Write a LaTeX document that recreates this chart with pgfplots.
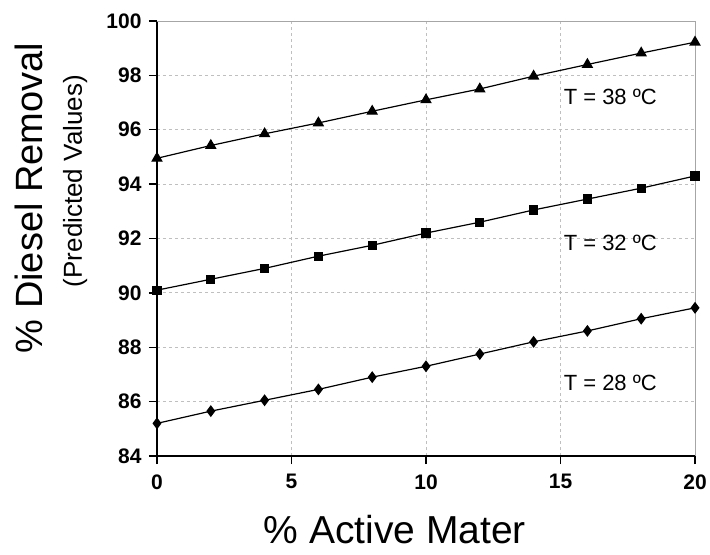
\documentclass[border=0pt]{standalone}
\usepackage{pgfplots}
\pgfplotsset{compat=1.18}
\usepackage{fontspec}
\setmainfont{Liberation Sans}
\begin{document}
\begin{tikzpicture}
\begin{axis}[
  name=ax,
  scale only axis,
  width=538pt, height=435pt,
  xmin=0, xmax=20, ymin=84, ymax=100,
  xtick={0,5,10,15,20}, ytick={84,86,...,100},
  axis x line*=bottom, axis y line*=left,
  axis line style={black, line width=1.8pt},
  tick align=outside, major tick length=8pt,
  tick style={black, line width=1.5pt},
  grid=major,
  grid style={gray!50, dashed, line width=0.9pt},
  /pgf/number format/assume math mode=true,
  ticklabel style={font=\fontsize{21}{23}\selectfont\bfseries},
  xticklabel style={yshift=-7pt},
  yticklabel style={xshift=-4pt},
  clip=false,
]
\draw[gray!70, line width=0.9pt] (rel axis cs:0,1) -- (rel axis cs:1,1) -- (rel axis cs:1,0);
\addplot[black, line width=1.2pt, mark=triangle*, mark size=5.5pt] coordinates {
(0,94.95) (2,95.42) (4,95.85) (6,96.25) (8,96.68) (10,97.1) (12,97.5) (14,97.97) (16,98.4) (18,98.82) (20,99.22)};
\addplot[black, line width=1.2pt, mark=square*, mark size=4pt] coordinates {
(0,90.1) (2,90.5) (4,90.9) (6,91.35) (8,91.75) (10,92.2) (12,92.6) (14,93.05) (16,93.45) (18,93.85) (20,94.3)};
\addplot[black, line width=1.2pt, mark=diamond*, mark size=5pt] coordinates {
(0,85.2) (2,85.65) (4,86.05) (6,86.45) (8,86.9) (10,87.3) (12,87.75) (14,88.2) (16,88.6) (18,89.05) (20,89.45)};
\node[font=\fontsize{22}{24}\selectfont] at (axis cs:16.85,97.2) {T = 38 ºC};
\node[font=\fontsize{22}{24}\selectfont] at (axis cs:16.85,91.85) {T = 32 ºC};
\node[font=\fontsize{22}{24}\selectfont] at (axis cs:16.85,86.7) {T = 28 ºC};
\node[rotate=90, font=\fontsize{38}{40}\selectfont, anchor=base] at ([xshift=-114pt]rel axis cs:0,0.593) {\% Diesel Removal};
\node[rotate=90, font=\fontsize{26}{28}\selectfont, anchor=base] at ([xshift=-75pt]rel axis cs:0,0.632) {(Predicted Values)};
\node[font=\fontsize{39}{41}\selectfont, anchor=base] at ([yshift=-87pt]rel axis cs:0.442,0) {\% Active Mater};
\end{axis}
\pgfresetboundingbox
\path ([shift={(-157pt,-98pt)}]ax.south west) rectangle ([shift={(15pt,21pt)}]ax.north east);
\end{tikzpicture}
\end{document}
